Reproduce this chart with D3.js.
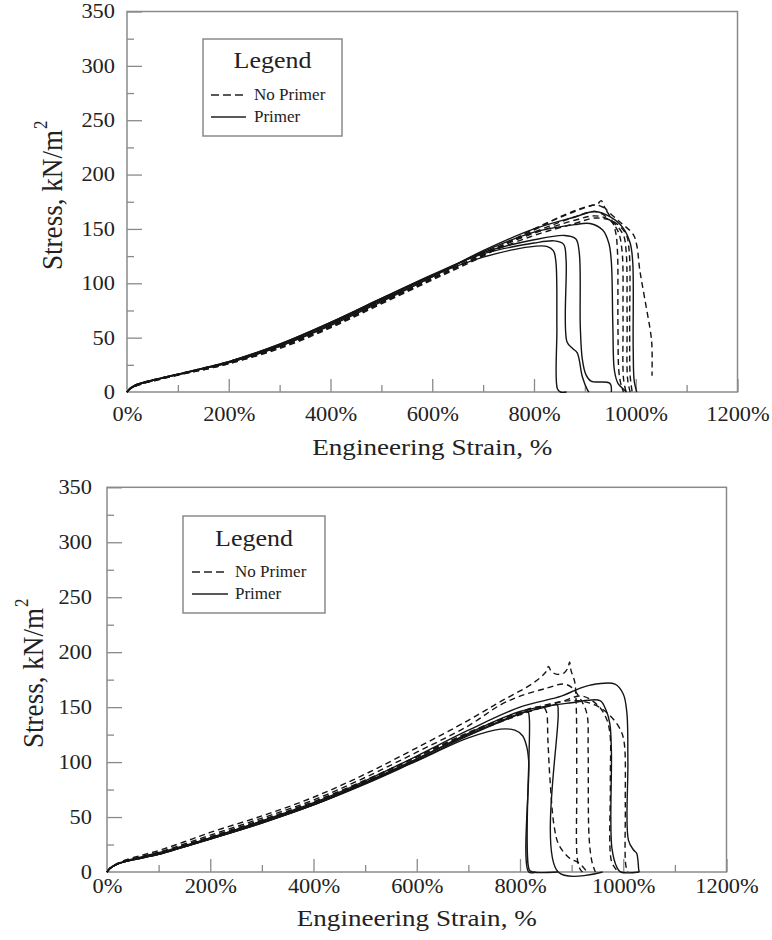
<!DOCTYPE html>
<html><head><meta charset="utf-8">
<script src="https://cdn.jsdelivr.net/npm/d3@7"></script>
<style>
body{margin:0;background:#fff}
svg{display:block}
text{font-family:"Liberation Serif","Times New Roman",serif;fill:#222}
</style>
</head><body>
<svg id="chart" width="772" height="940"></svg>
<script>
// ---------- data ----------
const xMajorTicks = [0,200,400,600,800,1000,1200];
const xMinorTicks = [100,300,500,700,900,1100];
const yMajorTicks = [0,50,100,150,200,250,300,350];
const yMinorTicks = [25,75,125,175,225,275,325];
const seriesNames = ["No Primer","Primer"];
const xTitle = "Engineering Strain, %";
const yTitle = "Stress, kN/m";

// top panel, No Primer (dashed) : [strain %, stress kN/m2]
const topNoPrimer1 = [[0,0],[5,2.5],[15,5.5],[30,8],[50,10.5],[100,16],[150,21],[200,27],[300,41],[400,60],[500,82],[600,104],[700,126],[800,149],[860,163],[900,170],[925,173],[932,176],[940,169],[970,156],[995,145],[1002,135],[1008,112],[1018,85],[1030,52],[1032,40],[1032,15]];
const topNoPrimer2 = [[0,0],[5,2.5],[15,5],[30,7.5],[50,10],[100,15.5],[150,20.5],[200,26],[300,40],[400,59],[500,81],[600,103],[700,125],[800,150],[880,166],[920,172],[935,170],[950,161],[960,148],[964,130],[965,60],[967,18],[972,5],[976,0]];
const topNoPrimer3 = [[0,0],[5,2.5],[15,5.5],[30,8],[50,10.5],[100,16],[150,21.5],[200,27],[300,42],[400,61],[500,83],[600,105],[700,127],[800,147],[880,161],[920,166],[945,160],[965,148],[973,130],[975,70],[976,12],[981,0]];
const topNoPrimer4 = [[0,0],[5,3],[15,6],[30,8.5],[50,11],[100,16.5],[150,22],[200,28],[300,43],[400,63],[500,85],[600,107],[700,128],[800,146],[880,158],[920,162],[950,158],[975,145],[981,130],[983,70],[984,12],[989,0]];
const topNoPrimer5 = [[0,0],[5,2.5],[15,5],[30,7.5],[50,10],[100,15.5],[150,20.5],[200,26],[300,41],[400,60],[500,82],[600,104],[700,126],[800,144],[880,155],[920,160],[955,157],[980,146],[987,130],[988,60],[989,15],[993,0]];
// top panel, Primer (solid)
const topPrimer1 = [[0,0],[5,3],[15,6],[30,8.5],[50,11],[100,16.5],[150,22],[200,28],[300,44],[400,64],[500,86],[600,107],[700,124],[760,131],[800,134],[825,134],[838,130],[843,120],[845,60],[846,3],[852,0],[864,0]];
const topPrimer2 = [[0,0],[5,3],[15,6],[30,8.5],[50,11],[100,16.5],[150,22],[200,28],[300,44],[400,64],[500,86],[600,108],[700,127],[800,137],[840,139],[858,136],[863,122],[865,46],[876,40],[885,36],[895,14],[905,2],[908,0]];
const topPrimer3 = [[0,0],[5,2.5],[15,5.5],[30,8],[50,10.5],[100,16],[150,21.5],[200,27],[300,43],[400,63],[500,85],[600,107],[700,128],[800,140],[860,144],[882,141],[889,128],[891,60],[895,30],[902,16],[912,10],[949,8],[952,0]];
const topPrimer4 = [[0,0],[5,2.5],[15,5.5],[30,8],[50,10.5],[100,16],[150,21.5],[200,27],[300,42],[400,62],[500,84],[600,106],[700,129],[800,147],[880,154],[910,155],[935,149],[947,137],[952,120],[955,60],[958,20],[965,8],[975,3],[982,0]];
const topPrimer5 = [[0,0],[5,2.5],[15,5.5],[30,8],[50,10.5],[100,16],[150,21.5],[200,27],[300,42],[400,61],[500,83],[600,106],[700,130],[800,150],[880,161],[920,166],[950,161],[975,151],[989,137],[994,120],[995,40],[997,10],[1002,0]];

// bottom panel, No Primer (dashed)
const botNoPrimer1 = [[0,0],[5,3],[15,6.5],[25,9],[50,13],[100,19.5],[150,27.5],[200,36],[300,51],[400,68],[500,89],[600,113],[700,138],[762,155],[826,172],[850,182],[855,187],[860,183],[870,180],[885,181],[893,186],[896,191],[899,183],[906,173],[909,150],[910,80],[911,12],[916,3],[921,0]];
const botNoPrimer2 = [[0,0],[5,3],[15,6],[25,8.5],[50,12],[100,18],[150,25.5],[200,33.5],[300,49],[400,65.5],[500,86],[600,109],[700,133],[762,152],[800,160],[850,167],[884,171],[900,168],[920,155],[930,143],[932,110],[934,30],[940,8],[946,0]];
const botNoPrimer3 = [[0,0],[5,3],[15,6],[25,8],[50,11.5],[100,17],[150,24],[200,32],[300,47.5],[400,64],[500,83.5],[600,105],[700,127],[780,142],[830,150],[845,150],[851,146],[854,120],[858,85],[866,42],[875,25],[895,13],[915,8],[930,0]];
const botNoPrimer4 = [[0,0],[5,3],[15,6],[25,8],[50,11.5],[100,17],[150,24],[200,31],[300,46],[400,62],[500,82],[600,103],[700,125],[800,143],[880,155],[920,160],[950,152],[966,141],[974,127],[975,80],[977,10],[985,3],[990,0]];
const botNoPrimer5 = [[0,0],[5,3],[15,6],[25,8],[50,11.5],[100,17],[150,24.5],[200,32],[300,47],[400,63],[500,83],[600,104.5],[700,126],[800,145],[900,156],[945,152],[975,142],[995,129],[1002,117],[1004,60],[1005,6],[1009,0]];
// bottom panel, Primer (solid)
const botPrimer1 = [[0,0],[5,3],[15,6],[25,8],[50,11],[100,16],[150,23],[200,30],[300,44.5],[400,61],[500,80],[600,101],[700,122],[762,130],[790,129],[805,124],[813,114],[817,100],[817,0],[830,0]];
const botPrimer2 = [[0,0],[5,3],[15,6],[25,8],[50,11],[100,16],[150,23],[200,30],[300,44.5],[400,61],[500,80.5],[600,101.5],[700,124],[780,140],[815,146],[818,140],[818,2],[825,0],[873,0]];
const botPrimer3 = [[0,0],[5,3],[15,6],[25,8],[50,11.5],[100,16.5],[150,23.5],[200,31],[300,46],[400,62],[500,81.5],[600,103],[700,125],[800,144],[850,150],[872,152],[874,145],[874,0],[960,0]];
const botPrimer4 = [[0,0],[5,3],[15,6],[25,8],[50,11],[100,16],[150,23],[200,30],[300,45],[400,61],[500,81],[600,102.5],[700,126],[800,146],[900,154],[955,156],[966,148],[974,135],[977,110],[978,22],[988,4],[995,0],[1031,0]];
const botPrimer5 = [[0,0],[5,3],[15,6.5],[25,8.5],[50,12],[100,17.5],[150,24],[200,31],[300,46.5],[400,63],[500,83],[600,105.5],[700,129],[800,150],[880,160],[910,166],[936,170],[984,171],[1000,162],[1007,145],[1009,100],[1010,29],[1020,20],[1026,17],[1030,2],[1031,0]];

const topNoPrimer = [topNoPrimer1,topNoPrimer2,topNoPrimer3,topNoPrimer4,topNoPrimer5];
const topPrimer = [topPrimer1,topPrimer2,topPrimer3,topPrimer4,topPrimer5];
const botNoPrimer = [botNoPrimer1,botNoPrimer2,botNoPrimer3,botNoPrimer4,botNoPrimer5];
const botPrimer = [botPrimer1,botPrimer2,botPrimer3,botPrimer4,botPrimer5];

// ---------- layout ----------
const panels = [
  {L:127,R:737.5,T:11.5,B:392, yPad:12, xLabBase:421, xTitleBase:455, yTitleX:62, yTitleStart:270,
   leg:{x:203,y:39,w:139,h:97,titleY:68,row1:100,row2:122,lineX1:211,lineX2:246,textX:254},
   noPrimer:topNoPrimer, primer:topPrimer},
  {L:107,R:726.5,T:487.3,B:872, yPad:15, xLabBase:893, xTitleBase:926, yTitleX:43, yTitleStart:748,
   leg:{x:183,y:516,w:142,h:97,titleY:546,row1:577,row2:599,lineX1:192,lineX2:228,textX:235},
   noPrimer:botNoPrimer, primer:botPrimer}
];

const svg = d3.select("#chart");
const AX = "#8a8a8a";
function stretch(sel,k){
  sel.each(function(){
    const w=this.getComputedTextLength();
    d3.select(this).attr("textLength",w*k).attr("lengthAdjust","spacingAndGlyphs");
  });
}

panels.forEach(p=>{
  const x = d3.scaleLinear().domain([0,1200]).range([p.L,p.R]);
  const y = d3.scaleLinear().domain([0,350]).range([p.B,p.T]);
  const g = svg.append("g");

  // frame
  g.append("rect").attr("x",p.L).attr("y",p.T).attr("width",p.R-p.L).attr("height",p.B-p.T)
    .attr("fill","none").attr("stroke",AX).attr("stroke-width",1.5);

  // x axis
  const xMaj = g.append("g").attr("transform",`translate(0,${p.B})`)
    .call(d3.axisBottom(x).tickValues(xMajorTicks).tickSizeInner(-13).tickSizeOuter(0).tickFormat(d=>d+"%"));
  const xMin = g.append("g").attr("transform",`translate(0,${p.B})`)
    .call(d3.axisBottom(x).tickValues(xMinorTicks).tickSizeInner(-7).tickSizeOuter(0).tickFormat(""));
  // y axis
  const yMaj = g.append("g").attr("transform",`translate(${p.L},0)`)
    .call(d3.axisLeft(y).tickValues(yMajorTicks).tickSizeInner(-15).tickSizeOuter(0).tickPadding(p.yPad).tickFormat(d3.format("d")));
  const yMin = g.append("g").attr("transform",`translate(${p.L},0)`)
    .call(d3.axisLeft(y).tickValues(yMinorTicks).tickSizeInner(-7).tickSizeOuter(0).tickFormat(""));
  [xMaj,xMin,yMaj,yMin].forEach(a=>{
    a.select(".domain").remove();
    a.selectAll(".tick line").attr("stroke",AX).attr("stroke-width",1.3);
  });
  xMaj.selectAll(".tick text").attr("y",p.xLabBase-p.B).attr("dy",null)
    .attr("font-size",20).attr("font-family","Liberation Serif").attr("fill","#222").call(stretch,1.12);
  yMaj.selectAll(".tick text").attr("font-size",20).attr("font-family","Liberation Serif").attr("fill","#222").call(stretch,1.12);
  xMaj.selectAll(".tick").filter(d=>d===0).select("line").remove();
  yMaj.selectAll(".tick").filter(d=>d===0).select("line").remove();

  // titles
  g.append("text").attr("x",(p.L+p.R)/2).attr("y",p.xTitleBase).attr("text-anchor","middle")
    .attr("font-size",24).attr("textLength",240).attr("lengthAdjust","spacingAndGlyphs").text(xTitle);
  const yt = g.append("g").attr("transform",`translate(${p.yTitleX},${p.yTitleStart}) rotate(-90) scale(1,1.15)`);
  yt.append("text").attr("x",0).attr("y",0).attr("font-size",26)
    .attr("textLength",140).attr("lengthAdjust","spacingAndGlyphs").text(yTitle);
  yt.append("text").attr("x",141).attr("y",-13).attr("font-size",17).text("2");

  // curves
  const line = d3.line().x(d=>x(d[0])).y(d=>y(d[1])).curve(d3.curveCatmullRom.alpha(0.5));
  g.append("g").selectAll("path").data(p.primer).join("path")
    .attr("d",line).attr("fill","none").attr("stroke","#151515").attr("stroke-width",1.4);
  g.append("g").selectAll("path").data(p.noPrimer).join("path")
    .attr("d",line).attr("fill","none").attr("stroke","#151515").attr("stroke-width",1.4)
    .attr("stroke-dasharray","6,4");

  // legend
  const lg = p.leg;
  const leg = g.append("g");
  leg.append("rect").attr("x",lg.x).attr("y",lg.y).attr("width",lg.w).attr("height",lg.h)
    .attr("fill","#fff").attr("stroke",AX).attr("stroke-width",1.5);
  leg.append("text").attr("x",lg.x+lg.w/2).attr("y",lg.titleY).attr("text-anchor","middle")
    .attr("font-size",24).text("Legend").call(stretch,1.08);
  const rows = [{name:seriesNames[0],y:lg.row1,dash:"8,4"},{name:seriesNames[1],y:lg.row2,dash:null}];
  rows.forEach(r=>{
    leg.append("line").attr("x1",lg.lineX1).attr("x2",lg.lineX2).attr("y1",r.y-5).attr("y2",r.y-5)
      .attr("stroke","#222").attr("stroke-width",1.4).attr("stroke-dasharray",r.dash);
    leg.append("text").attr("x",lg.textX).attr("y",r.y).attr("font-size",17).text(r.name);
  });
});
</script>
</body></html>
